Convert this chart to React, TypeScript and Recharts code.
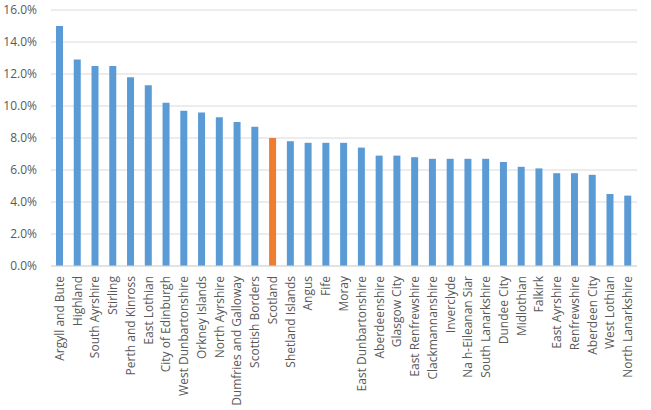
import React from 'react';
import { BarChart, Bar, XAxis, YAxis, CartesianGrid, Cell } from 'recharts';

const categories = [
  'Argyll and Bute', 'Highland', 'South Ayrshire', 'Stirling', 'Perth and Kinross',
  'East Lothian', 'City of Edinburgh', 'West Dunbartonshire', 'Orkney Islands',
  'North Ayrshire', 'Dumfries and Galloway', 'Scottish Borders', 'Scotland',
  'Shetland Islands', 'Angus', 'Fife', 'Moray', 'East Dunbartonshire', 'Aberdeenshire',
  'Glasgow City', 'East Renfrewshire', 'Clackmannanshire', 'Inverclyde',
  'Na h-Eileanan Siar', 'South Lanarkshire', 'Dundee City', 'Midlothian', 'Falkirk',
  'East Ayrshire', 'Renfrewshire', 'Aberdeen City', 'West Lothian', 'North Lanarkshire',
];
const values = [
  15.0, 12.9, 12.5, 12.5, 11.8, 11.3, 10.2, 9.7, 9.6, 9.3, 9.0, 8.7, 8.0,
  7.8, 7.7, 7.7, 7.7, 7.4, 6.9, 6.9, 6.8, 6.7, 6.7, 6.7, 6.7, 6.5, 6.2, 6.1,
  5.8, 5.8, 5.7, 4.5, 4.4,
];
const yTicks = [0, 2, 4, 6, 8, 10, 12, 14, 16];
const highlight = 'Scotland';

const data = categories.map((name, i) => ({ name, value: values[i] }));

const XTick = (props: any) => {
  const { x, y, payload } = props;
  return (
    <text
      x={0}
      y={0}
      transform={`translate(${x + 4},${y + 2}) rotate(-90)`}
      textAnchor="end"
      fill="#595959"
      fontSize={12}
      fontFamily="Open Sans, sans-serif"
    >
      {payload.value}
    </text>
  );
};

export default function App() {
  return (
    <div style={{ position: 'absolute', left: 0, top: 0, background: '#fff' }}>
      <BarChart
        width={651}
        height={410}
        data={data}
        margin={{ top: 10, right: 14, bottom: 0, left: 0 }}
        barCategoryGap="0%"
      >
        <CartesianGrid vertical={false} stroke="#D9D9D9" />
        <XAxis
          dataKey="name"
          interval={0}
          height={144}
          tickLine={false}
          axisLine={{ stroke: '#D9D9D9' }}
          tick={<XTick />}
        />
        <YAxis
          width={51}
          domain={[0, 16]}
          ticks={yTicks}
          tickFormatter={(v: number) => `${v.toFixed(1)}%`}
          axisLine={false}
          tickLine={false}
          tickMargin={8}
          tick={{ fill: '#595959', fontSize: 12, fontFamily: 'Open Sans, sans-serif' }}
        />
        <Bar dataKey="value" barSize={7} isAnimationActive={false}>
          {data.map((d) => (
            <Cell key={d.name} fill={d.name === highlight ? '#ED7D31' : '#5B9BD5'} />
          ))}
        </Bar>
      </BarChart>
    </div>
  );
}
